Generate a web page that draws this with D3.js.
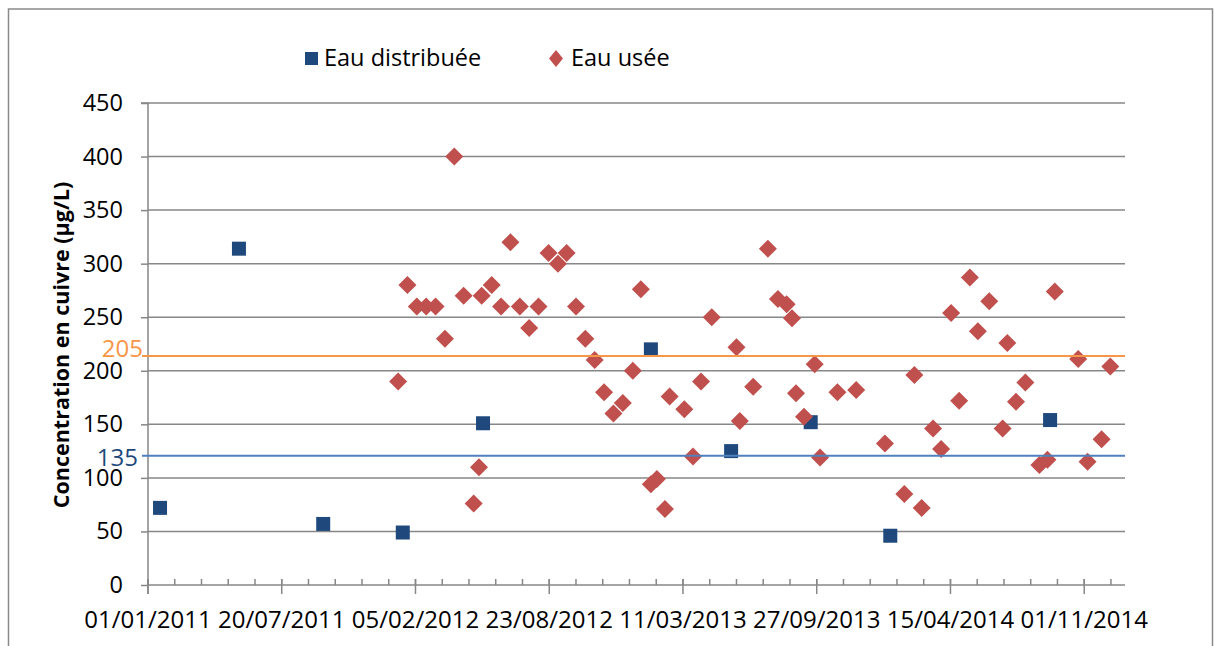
<!DOCTYPE html>
<html>
<head>
<meta charset="utf-8">
<script src="https://cdn.jsdelivr.net/npm/d3@7"></script>
<style>
  html, body { margin: 0; padding: 0; background: #fff; }
  svg { display: block; }
  text { font-family: "Open Sans", "Noto Sans", sans-serif; }
</style>
</head>
<body>
<svg id="chart" width="1214" height="646"></svg>
<script>
// ---- data ----
const distribDates = ["19/01/2011","17/05/2011","20/09/2011","17/01/2012","16/05/2012","22/01/2013","22/05/2013","18/09/2013","15/01/2014","11/09/2014"];
const distribValues = [72, 314, 57, 49, 151, 220, 125, 152, 46, 154];

const useeDates = [
  "10/01/2012","24/01/2012","07/02/2012","21/02/2012","06/03/2012","20/03/2012","03/04/2012","17/04/2012","02/05/2012","10/05/2012",
  "14/05/2012","29/05/2012","12/06/2012","26/06/2012","10/07/2012","24/07/2012","07/08/2012","22/08/2012","05/09/2012","18/09/2012",
  "02/10/2012","16/10/2012","30/10/2012","13/11/2012","27/11/2012","11/12/2012","26/12/2012","07/01/2013","22/01/2013","31/01/2013",
  "12/02/2013","19/02/2013","13/03/2013","26/03/2013","07/04/2013","23/04/2013","30/05/2013","04/06/2013","24/06/2013","16/07/2013",
  "31/07/2013","13/08/2013","21/08/2013","27/08/2013","08/09/2013","24/09/2013","02/10/2013","28/10/2013","25/11/2013","07/01/2014",
  "05/02/2014","20/02/2014","03/03/2014","20/03/2014","01/04/2014","16/04/2014","28/04/2014","14/05/2014","26/05/2014","12/06/2014",
  "02/07/2014","09/07/2014","22/07/2014","05/08/2014","26/08/2014","07/09/2014","18/09/2014","23/10/2014","06/11/2014","27/11/2014",
  "10/12/2014"];
const useeValues = [
  190, 280, 260, 260, 260, 230, 400, 270, 76, 110,
  270, 280, 260, 320, 260, 240, 260, 310, 300, 310,
  260, 230, 210, 180, 160, 170, 200, 276, 94, 99,
  71, 176, 164, 120, 190, 250, 222, 153, 185, 314,
  267, 262, 249, 179, 157, 206, 119, 180, 182, 132,
  85, 196, 72, 146, 127, 254, 172, 287, 237, 265,
  146, 226, 171, 189, 112, 117, 274, 211, 115, 136,
  204];

const seriesNames = ["Eau distribuée", "Eau usée"];
const xTickLabels = ["01/01/2011","20/07/2011","05/02/2012","23/08/2012","11/03/2013","27/09/2013","15/04/2014","01/11/2014"];
const xDomainLabels = ["01/01/2011", "01/01/2015"];
const yTickValues = [0, 50, 100, 150, 200, 250, 300, 350, 400, 450];
const minorTickDays = 40;
const refLabels = ["205", "135"];
const refValues = [213.8, 120.7];

// ---- setup ----
const parse = d3.utcParse("%d/%m/%Y");
const svg = d3.select("#chart");
const plot = { left: 148, right: 1125, top: 103, bottom: 585 };
const GRID = "#878787";
const FS = 23.5;

const x = d3.scaleUtc().domain(xDomainLabels.map(parse)).range([plot.left, plot.right]);
const y = d3.scaleLinear().domain([0, 450]).range([plot.bottom, plot.top]);

// outer border
svg.append("rect").attr("x", 8.5).attr("y", 9).attr("width", 1204).attr("height", 700)
  .attr("fill", "none").attr("stroke", "#8a8a8a").attr("stroke-width", 1.5);

// gridlines
svg.append("g").selectAll("line").data(yTickValues.filter(v => v > 0)).join("line")
  .attr("x1", plot.left).attr("x2", plot.right)
  .attr("y1", d => y(d)).attr("y2", d => y(d))
  .attr("stroke", GRID).attr("stroke-width", 1.5);

// y axis
const yAxis = d3.axisLeft(y).tickValues(yTickValues).tickSize(7).tickPadding(18).tickFormat(d3.format("d"));
const gy = svg.append("g").attr("transform", `translate(${plot.left},0)`).call(yAxis);
gy.select(".domain").attr("stroke", GRID).attr("stroke-width", 1.5).attr("d", `M-7,${plot.top}H0V${plot.bottom + 9}`);
gy.selectAll(".tick line").attr("stroke", GRID).attr("stroke-width", 1.5);
gy.selectAll(".tick text").attr("font-size", FS).attr("fill", "#000").attr("font-family", "Open Sans");

// x axis
const majorTicks = xTickLabels.map(parse);
const start = parse(xDomainLabels[0]), end = parse(xDomainLabels[1]);
const minorTicks = d3.utcDay.range(start, end, 1).filter(d => Math.round((d - start) / 864e5) % minorTickDays === 0);

const gx = svg.append("g").attr("transform", `translate(0,${plot.bottom})`);
gx.append("line").attr("x1", plot.left).attr("x2", plot.right).attr("stroke", GRID).attr("stroke-width", 1.5);
gx.selectAll(".minor").data(minorTicks).join("line").attr("class", "minor")
  .attr("x1", d => x(d)).attr("x2", d => x(d)).attr("y1", -6).attr("y2", 0)
  .attr("stroke", GRID).attr("stroke-width", 1.5);
gx.selectAll(".major").data(majorTicks).join("line").attr("class", "major")
  .attr("x1", d => x(d)).attr("x2", d => x(d)).attr("y1", -6).attr("y2", 9)
  .attr("stroke", GRID).attr("stroke-width", 1.5);
gx.selectAll(".lbl").data(xTickLabels).join("text").attr("class", "lbl")
  .attr("x", d => x(parse(d))).attr("y", 43)
  .attr("text-anchor", "middle").attr("font-size", 24).attr("fill", "#000")
  .text(d => d);

// y axis title
svg.append("text")
  .attr("transform", `translate(69,345) rotate(-90)`)
  .attr("text-anchor", "middle").attr("font-size", 21.5).attr("font-weight", "bold").attr("fill", "#000")
  .text("Concentration en cuivre (µg/L)");

// series 1: squares
const sq = 14;
svg.append("g").selectAll("rect").data(distribDates.map((d, i) => ({ d: parse(d), v: distribValues[i] }))).join("rect")
  .attr("x", p => x(p.d) - sq / 2).attr("y", p => y(p.v) - sq / 2)
  .attr("width", sq).attr("height", sq).attr("fill", "#1F497D");

// series 2: diamonds
const dm = 9;
svg.append("g").selectAll("path").data(useeDates.map((d, i) => ({ d: parse(d), v: useeValues[i] }))).join("path")
  .attr("d", p => { const cx = x(p.d), cy = y(p.v); return `M${cx},${cy - dm}L${cx + dm},${cy}L${cx},${cy + dm}L${cx - dm},${cy}Z`; })
  .attr("fill", "#C0504D");

// reference lines
const refColors = ["#F79646", "#4F81BD"];
const refTextColors = ["#F79646", "#1F497D"];
refValues.forEach((v, i) => {
  svg.append("line").attr("x1", 142).attr("x2", plot.right).attr("y1", y(v)).attr("y2", y(v))
    .attr("stroke", refColors[i]).attr("stroke-width", 2);
});
svg.append("text").attr("x", 143).attr("y", y(refValues[0]) + 1).attr("text-anchor", "end")
  .attr("font-size", 24).attr("fill", refTextColors[0]).text(refLabels[0]);
svg.append("text").attr("x", 138).attr("y", y(refValues[1]) + 10).attr("text-anchor", "end")
  .attr("font-size", 24).attr("fill", refTextColors[1]).text(refLabels[1]);

// legend
const lg = svg.append("g");
lg.append("rect").attr("x", 305).attr("y", 52).attr("width", 13).attr("height", 13).attr("fill", "#1F497D");
lg.append("text").attr("x", 324).attr("y", 66).attr("font-size", FS).attr("fill", "#000").text(seriesNames[0]);
lg.append("path").attr("d", "M556,50L563,58.5L556,67L549,58.5Z").attr("fill", "#C0504D");
lg.append("text").attr("x", 571).attr("y", 66).attr("font-size", FS).attr("fill", "#000").text(seriesNames[1]);
</script>
</body>
</html>
